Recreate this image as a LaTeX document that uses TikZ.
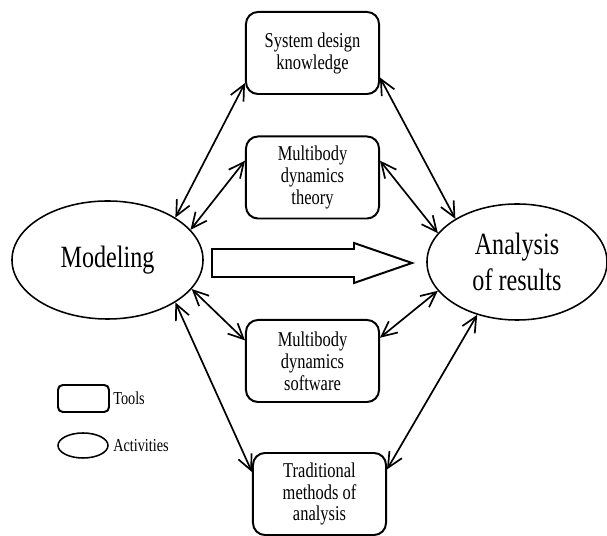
\documentclass[tikz,border=0pt]{standalone}
\usepackage{fontspec}
\setmainfont[FakeStretch=0.78]{Liberation Serif}
\usetikzlibrary{shapes.geometric,arrows.meta}

\tikzset{
  tool/.style={draw, rounded corners=0.3cm, line width=1.4pt, minimum width=3.325cm, minimum height=2.05cm, inner sep=0pt, align=center, font=\fontsize{15}{15.6}\selectfont},
  activity/.style={draw, ellipse, line width=1.1pt, inner sep=0pt, align=center, font=\fontsize{22}{25}\selectfont},
  link/.style={{Straight Barb[length=3.8mm,width=3.6mm]}-{Straight Barb[length=3.8mm,width=3.6mm]}, line width=1.2pt},
  legendtext/.style={anchor=west, inner sep=0pt, font=\fontsize{13}{15}\selectfont}
}

\begin{document}
\begin{tikzpicture}[x=0.025cm, y=-0.025cm]
%% the page is 607 x 536, one unit is one pixel of the drawing
    \useasboundingbox (0,0) rectangle (607,536);

%% the two activities
    \node[activity, minimum width=4.775cm, minimum height=2.95cm] (model) at (107.5,260) {Modeling};
    \node[activity, minimum width=4.5cm, minimum height=2.9cm] (results) at (517,262) {Analysis\\of results};

%% the tools in the middle
    \node[tool] (design) at (312.5,53) {System design\\knowledge};
    \node[tool] (theory) at (312.5,177.5) {Multibody\\dynamics\\theory};
    \node[tool] (software) at (312.5,361) {Multibody\\dynamics\\software};
    \node[tool] (classic) at (319.5,494) {Traditional\\methods of\\analysis};

%% the big hollow arrow from modeling to the results
    \draw[line width=1.4pt] (212,249) -- (354,249) -- (354,243) -- (412,263) -- (354,283) -- (354,277) -- (212,277) -- cycle;

%% links on the left side
    \draw[link] (model.32) -- (design.204);
    \draw[link] (model.20) -- (theory.166);
    \draw[link] (model.-19) -- (software.163);
    \draw[link] (model.-32) -- (classic.162);

%% links on the right side
    \draw[link] (results.145) -- (design.-20);
    \draw[link] (results.160) -- (theory.14);
    \draw[link] (results.200) -- (software.19);
    \draw[link] (results.233) -- (classic.20);

%% legend
    \node[draw, rounded corners=0.12cm, line width=1.4pt, minimum width=1.275cm, minimum height=0.675cm, inner sep=0pt] (toolkey) at (83.5,398.5) {};
    \node[draw, ellipse, line width=1.1pt, minimum width=1.25cm, minimum height=0.625cm, inner sep=0pt] (activitykey) at (83,445.5) {};
    \node[legendtext] (toolname) at (113,398) {Tools};
    \node[legendtext] (activityname) at (113,446) {Activities};

\end{tikzpicture}
\end{document}
